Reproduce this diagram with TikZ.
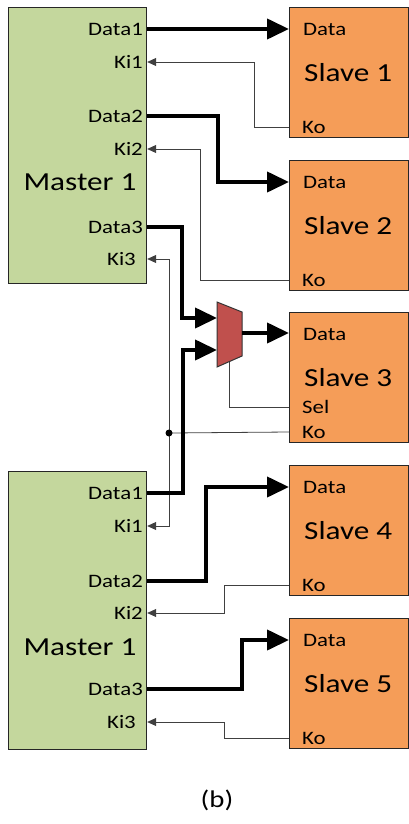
\documentclass[tikz,border=0pt]{standalone}
\usepackage{fontspec}
\setmainfont{Carlito}[FakeStretch=1.2]
\usetikzlibrary{arrows.meta}
\definecolor{mastergreen}{HTML}{C4D79D}
\definecolor{slaveorange}{HTML}{F59D58}
\definecolor{muxred}{HTML}{C0504D}
\tikzset{
  master/.style={draw=black!85, line width=1.2pt, fill=mastergreen, minimum width=138pt, anchor=north west, inner sep=0},
  slave/.style={draw=black!85, line width=1.2pt, fill=slaveorange, minimum width=119pt, minimum height=130pt, anchor=north west, inner sep=0},
  port/.style={inner sep=0, font=\fontsize{19}{22}\selectfont},
  title/.style={inner sep=0, font=\fontsize{26}{30}\selectfont},
  bus/.style={line width=4pt, -{Triangle[length=22pt,width=20pt]}},
  ctl/.style={draw=black!75, line width=0.8pt, -{Triangle[length=9pt,width=8pt]}},
  wire/.style={draw=black!75, line width=0.8pt},
}
\begin{document}
\begin{tikzpicture}[x=1pt,y=-1pt]
  \useasboundingbox (0,0) rectangle (409,824);
  \node[master, minimum height=276pt] (m1) at (8,7) {};
  \node[master, minimum height=278pt] (m2) at (8,471) {};
  \node[title] (m1t) at (80,182) {Master 1};
  \node[title] (m2t) at (80,647) {Master 1};
  \foreach \n/\t/\y in {m1d1/Data1/29, m1k1/Ki1/62, m1d2/Data2/116, m1k2/Ki2/149, m1d3/Data3/227,
                        m2d1/Data1/493, m2k1/Ki1/526, m2d2/Data2/581, m2k2/Ki2/613, m2d3/Data3/689}
    \node[port, anchor=east] (\n) at (143,\y) {\t};
  \node[port, anchor=east] (m1k3) at (136,259) {Ki3};
  \node[port, anchor=east] (m2k3) at (136,722) {Ki3};
  \foreach \i/\y in {1/7, 2/160, 3/312, 4/465, 5/618} {
    \node[slave] (s\i) at (289,\y) {};
    \node[title, anchor=west] (s\i t) at (304,\y+66) {Slave \i};
    \node[port, anchor=west] (s\i d) at (303,\y+22) {Data};
    \node[port, anchor=west] (s\i k) at (302,\y+120) {Ko};
  }
  \node[port, anchor=west] (s3sel) at (302,407) {Sel};
  \draw[draw=black!80, line width=1pt, fill=muxred] (217,302) -- (242,312) -- (242,356) -- (217,367) -- cycle;
  \coordinate (muxa) at (217,318);
  \coordinate (muxb) at (217,350);
  \coordinate (muxo) at (242,333);
  \coordinate (muxs) at (229,362);
  \coordinate (dot) at (169,433);
  \draw[bus] (m1.east |- m1d1) -- (s1.west |- m1d1);
  \draw[ctl] (s1.west |- s1k) -- ++(-35,0) |- (m1.east |- m1k1);
  \draw[bus] (m1.east |- m1d2) -- ++(71,0) |- (s2.west |- s2d);
  \draw[ctl] (s2.west |- s2k) -- ++(-89,0) |- (m1.east |- m1k2);
  \draw[bus] (m1.east |- m1d3) -- ++(35,0) |- (muxa);
  \draw[wire] (s3.west |- s3k) -- (dot);
  \draw[ctl] (dot) |- (m1.east |- m1k3);
  \draw[ctl] (dot) |- (m2.east |- m2k1);
  \fill (dot) circle (3.5pt);
  \draw[bus] (m2.east |- m2d1) -- ++(36,0) |- (muxb);
  \draw[bus] (muxo) -- (s3.west |- muxo);
  \draw[wire] (muxs) |- (s3.west |- s3sel);
  \draw[bus] (m2.east |- m2d2) -- ++(59,0) |- (s4.west |- s4d);
  \draw[ctl] (s4.west |- s4k) -- ++(-65,0) |- (m2.east |- m2k2);
  \draw[bus] (m2.east |- m2d3) -- ++(95,0) |- (s5.west |- s5d);
  \draw[ctl] (s5.west |- s5k) -- ++(-65,0) |- (m2.east |- m2k3);
  \node[font=\fontsize{24}{28}\selectfont] (cap) at (217,800) {(b)};
\end{tikzpicture}
\end{document}
